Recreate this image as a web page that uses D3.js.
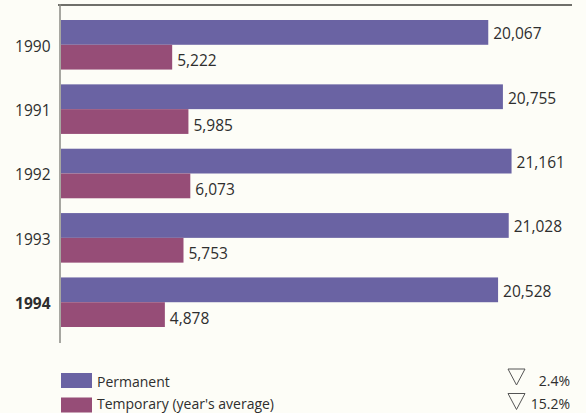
<!DOCTYPE html>
<html>
<head>
<meta charset="utf-8">
<script src="https://cdn.jsdelivr.net/npm/d3@7"></script>
<style>
  html, body { margin: 0; padding: 0; background: #fdfdf7; }
  svg { display: block; }
  text { font-family: "Open Sans", "Noto Sans", sans-serif; fill: #2e2e2e; }
</style>
</head>
<body>
<svg id="chart" width="586" height="413"></svg>
<script>
// Employees by year: permanent staff and temporary staff (year's average)
const years = ["1990", "1991", "1992", "1993", "1994"];
const permanent = [20067, 20755, 21161, 21028, 20528];
const temporary = [5222, 5985, 6073, 5753, 4878];
const seriesNames = ["Permanent", "Temporary (year's average)"];
const seriesColors = ["#6a63a3", "#964d77"];
const changes = ["2.4%", "15.2%"];
const highlightYear = "1994";

const svg = d3.select("#chart");
const fmt = d3.format(",");

const x = d3.scaleLinear().domain([0, 24000]).range([61, 572]);
const y = d3.scaleBand().domain(years).range([12.6, 334.4]).paddingInner(0.23).paddingOuter(0.115);
const ySub = d3.scaleBand().domain(seriesNames).range([0, y.bandwidth()]).padding(0);

const seriesValues = [permanent, temporary];

// frame: top rule and left axis
svg.append("line")
  .attr("x1", 58).attr("x2", x.range()[1])
  .attr("y1", 5).attr("y2", 5)
  .attr("stroke", "#6f6f6a").attr("stroke-width", 2);

const yAxis = d3.axisLeft(y).tickSize(0).tickPadding(10);
const yAxisG = svg.append("g")
  .attr("transform", `translate(${x(0) - 0.5},0)`)
  .call(yAxis);
yAxisG.select(".domain").remove();
yAxisG.selectAll("text")
  .attr("font-size", 15.5)
  .attr("dy", "0.45em")
  .style("font-family", "\"Open Sans\", sans-serif")
  .style("fill", "#2e2e2e")
  .attr("font-weight", d => d === highlightYear ? 700 : 400);

svg.append("line")
  .attr("x1", x(0) - 1).attr("x2", x(0) - 1)
  .attr("y1", 4).attr("y2", 343)
  .attr("stroke", "#8a8a84").attr("stroke-width", 1.5);

// bars
seriesNames.forEach((name, si) => {
  const vals = seriesValues[si];
  const g = svg.append("g");
  g.selectAll("rect")
    .data(years.map((yr, i) => ({ yr, v: vals[i] })))
    .join("rect")
    .attr("x", x(0))
    .attr("y", d => y(d.yr) + ySub(name))
    .attr("width", d => x(d.v) - x(0))
    .attr("height", ySub.bandwidth())
    .attr("fill", seriesColors[si]);
  g.selectAll("text")
    .data(years.map((yr, i) => ({ yr, v: vals[i] })))
    .join("text")
    .attr("x", d => x(d.v) + 5)
    .attr("y", d => y(d.yr) + ySub(name) + ySub.bandwidth() / 2 + (si === 0 ? 1 : 3))
    .attr("dominant-baseline", "central")
    .attr("font-size", 15.5)
    .text(d => fmt(d.v));
});

// legend
const legend = svg.append("g");
seriesNames.forEach((name, i) => {
  const ly = 373 + i * 24.5;
  legend.append("rect")
    .attr("x", 61).attr("y", ly)
    .attr("width", 31).attr("height", 15)
    .attr("fill", seriesColors[i]);
  legend.append("text")
    .attr("x", 97).attr("y", ly + 8 - i * 2)
    .attr("dominant-baseline", "central")
    .attr("font-size", 14)
    .text(name);
  // change indicator (decrease)
  const tx = 508, ty = ly - 4;
  legend.append("path")
    .attr("d", `M${tx},${ty} L${tx + 17},${ty} L${tx + 8.5},${ty + 16} Z`)
    .attr("fill", "none")
    .attr("stroke", "#555")
    .attr("stroke-width", 1);
  legend.append("text")
    .attr("x", 570).attr("y", ly + 7.5 - i * 2)
    .attr("text-anchor", "end")
    .attr("dominant-baseline", "central")
    .attr("font-size", 14)
    .text(changes[i]);
});
</script>
</body>
</html>
